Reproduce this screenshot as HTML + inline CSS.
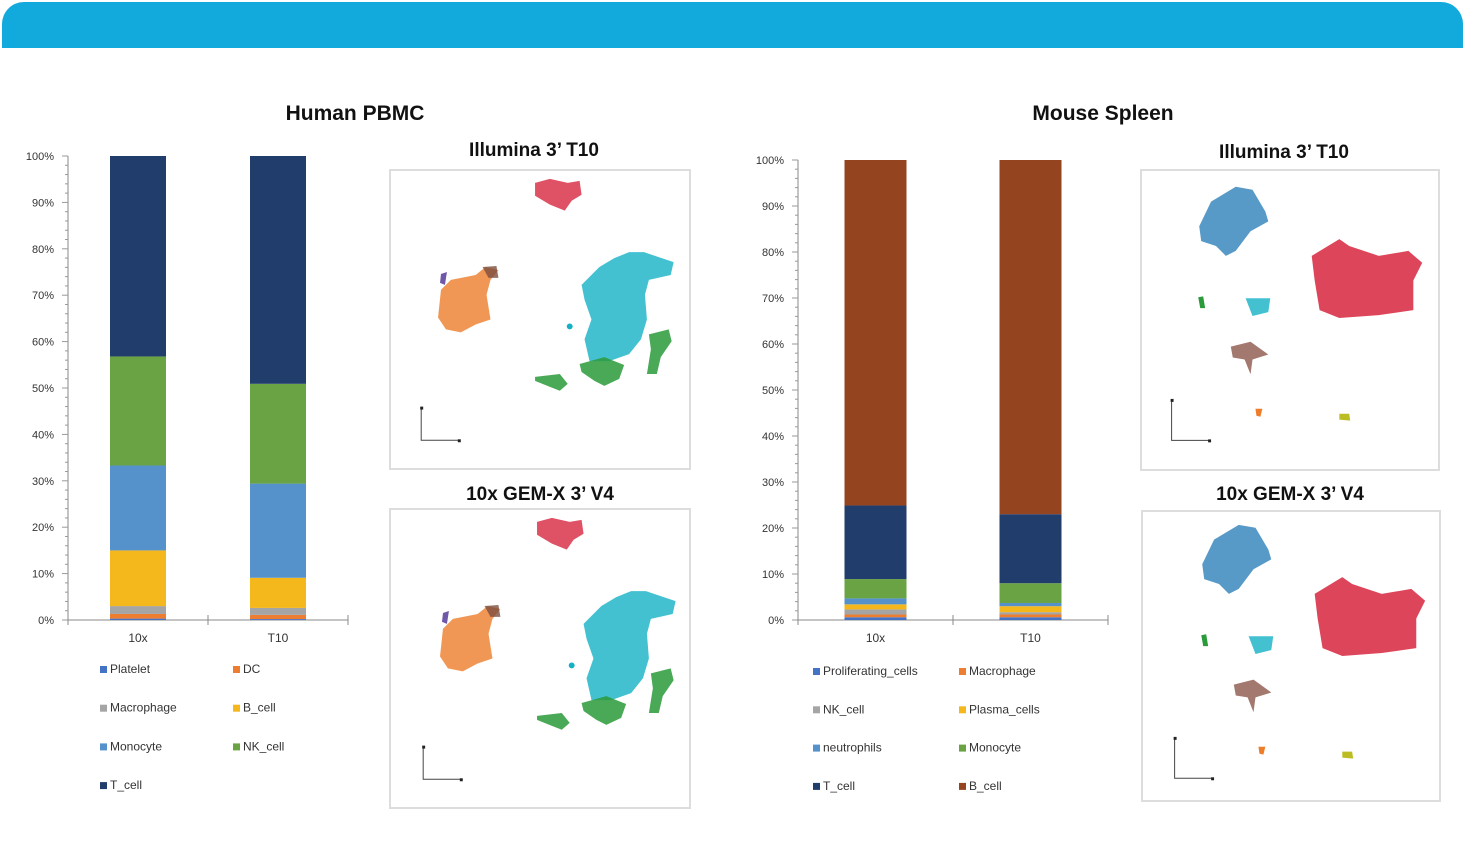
<!DOCTYPE html>
<html><head><meta charset="utf-8">
<style>
body{margin:0;width:1465px;height:849px;background:#fff;position:relative;overflow:hidden;font-family:"Liberation Sans",sans-serif;}
.abs{position:absolute;}
.title{font-weight:bold;font-size:21px;color:#111;transform:translateX(-50%);white-space:nowrap;}
.sub{font-weight:bold;font-size:19px;color:#111;transform:translateX(-50%);white-space:nowrap;}
.box{border:2px solid #ddd;box-sizing:border-box;}
</style></head><body>
<div class="abs" style="left:2px;top:2px;width:1461px;height:46px;background:#12a9dc;border-radius:22px 22px 0 0;"></div>
<div class="abs title" style="left:355px;top:102px;">Human PBMC</div>
<div class="abs title" style="left:1103px;top:102px;">Mouse Spleen</div>
<div class="abs sub" style="left:534px;top:140px;">Illumina 3’ T10</div>
<div class="abs sub" style="left:540px;top:484px;">10x GEM-X 3’ V4</div>
<div class="abs sub" style="left:1284px;top:142px;">Illumina 3’ T10</div>
<div class="abs sub" style="left:1290px;top:484px;">10x GEM-X 3’ V4</div>

<svg class="abs" style="left:0;top:0" width="1465" height="849" id="charts"></svg>

<svg class="abs box" style="left:389px;top:169px" width="302" height="301" viewBox="0 0 300 300">
 <g id="pbmcA">
 <path d="M145,12 L160,8 L178,12 L190,10 L192,24 L182,30 L175,40 L160,34 L145,25Z" fill="#d7263d" opacity="0.8"/>
 <path d="M50,120 L60,110 L85,105 L95,97 L108,100 L100,110 L96,125 L100,150 L85,155 L70,163 L55,160 L47,148Z" fill="#ee7d2a" opacity="0.8"/>
 <path d="M92,97 L106,96 L108,108 L98,108Z" fill="#7d4f3f" opacity="0.8"/>
 <path d="M50,104 L56,102 L54,115 L49,113Z" fill="#7058a8"/>
 <path d="M192,115 L210,97 L225,88 L240,82 L255,82 L285,92 L282,105 L260,110 L256,125 L258,150 L252,170 L240,185 L220,192 L200,192 L195,170 L202,150 L195,130Z" fill="#14b1c5" opacity="0.8"/>
 <path d="M190,195 L215,188 L235,196 L230,210 L215,217 L205,212 L192,203Z" fill="#2a9a3a" opacity="0.85"/>
 <path d="M260,165 L280,160 L283,172 L272,188 L268,205 L258,205 L262,180Z" fill="#2a9a3a" opacity="0.85"/>
 <path d="M145,208 L170,205 L178,215 L170,222 L160,218 L145,212Z" fill="#2a9a3a" opacity="0.85"/>
 <circle cx="180" cy="157" r="3" fill="#14b1c5"/>
 <path d="M30,240 V272 H68" stroke="#444" stroke-width="1" fill="none"/>
 <rect x="29" y="238" width="3" height="3" fill="#222"/><rect x="67" y="271" width="3" height="3" fill="#222"/>
 </g>
</svg>
<svg class="abs box" style="left:389px;top:508px" width="302" height="301" viewBox="0 0 300 300">
 <use href="#pbmcA" transform="translate(2,0)"/>
</svg>
<svg class="abs box" style="left:1140px;top:169px" width="300" height="302" viewBox="0 0 300 300">
 <g id="splA">
 <path d="M58,55 L70,30 L95,15 L112,18 L125,40 L128,50 L110,60 L95,80 L85,85 L75,75 L60,70Z" fill="#1f77b4" opacity="0.75"/>
 <path d="M172,85 L200,68 L210,75 L240,85 L270,80 L284,92 L275,110 L275,140 L240,145 L200,148 L180,140 L175,110Z" fill="#d7263d" opacity="0.85"/>
 <path d="M57,127 L62,126 L64,138 L59,138Z" fill="#2a9a3a"/>
 <path d="M105,128 L130,128 L128,142 L112,146Z" fill="#14b1c5" opacity="0.8"/>
 <path d="M90,177 L110,172 L128,185 L112,190 L110,205 L104,190 L92,188Z" fill="#8c564b" opacity="0.8"/>
 <path d="M115,240 L122,240 L120,248 L116,247Z" fill="#ee7d2a"/>
 <path d="M200,245 L210,245 L211,252 L200,251Z" fill="#bcbd22"/>
 <path d="M30,232 V272 H68" stroke="#444" stroke-width="1" fill="none"/>
 <rect x="29" y="230" width="3" height="3" fill="#222"/><rect x="67" y="271" width="3" height="3" fill="#222"/>
 </g>
</svg>
<svg class="abs box" style="left:1141px;top:510px" width="300" height="292" viewBox="0 0 300 292">
 <use href="#splA" transform="translate(2,-2)"/>
</svg>

<script>
// Human PBMC
const pbmcCats=["10x","T10"];
const pbmcTypes=["Platelet","DC","Macrophage","B_cell","Monocyte","NK_cell","T_cell"];
const pbmcColors=["#4472c4","#ed7d31","#a5a5a5","#f4b81c","#5592cb","#6aa343","#203d6b"];
const pbmc10x=[0.3,1.0,1.7,12.0,18.3,23.5,43.2];
const pbmcT10=[0.2,0.9,1.5,6.5,20.3,21.5,49.1];
// Mouse Spleen
const splCats=["10x","T10"];
const splTypes=["Proliferating_cells","Macrophage","NK_cell","Plasma_cells","neutrophils","Monocyte","T_cell","B_cell"];
const splColors=["#4472c4","#ed7d31","#a5a5a5","#f4b81c","#5592cb","#6aa343","#203d6b","#94441f"];
const spl10x=[0.6,0.6,1.1,1.1,1.3,4.2,16.0,75.1];
const splT10=[0.6,0.6,0.5,1.3,0.7,4.3,15.0,77.0];
const yTicks=[0,10,20,30,40,50,60,70,80,90,100];

const NS="http://www.w3.org/2000/svg";
const svg=document.getElementById('charts');
function mk(tag,attrs){const e=document.createElementNS(NS,tag);for(const k in attrs)e.setAttribute(k,attrs[k]);svg.appendChild(e);return e;}

function chart(cfg){
  const y=v=>cfg.y0-(cfg.y0-cfg.y100)*v/100;
  const ax=mk('line',{x1:cfg.ax,x2:cfg.ax,y1:y(100),y2:cfg.y0,stroke:'#888'});
  
  
  for(let i=0;i<=100;i+=2){const t=mk('line',{x1:cfg.ax-(i%10?3:6),x2:cfg.ax,y1:y(i),y2:y(i),stroke:'#999'});
    
    }
  yTicks.forEach(v=>{const t=mk('text',{x:cfg.ax-14,y:y(v)+4,'text-anchor':'end','font-size':11,fill:'#333'});t.textContent=v+'%';
    
    });
  const xa=mk('line',{x1:cfg.ax,x2:cfg.axEnd,y1:cfg.y0,y2:cfg.y0,stroke:'#888'});
  
  
  const step=(cfg.axEnd-cfg.ax)/cfg.cats.length;
  for(let i=0;i<=cfg.cats.length;i++){const t=mk('line',{x1:cfg.ax+i*step,x2:cfg.ax+i*step,y1:cfg.y0-5,y2:cfg.y0+5,stroke:'#888'});
    
    }
  cfg.cats.forEach((c,ci)=>{
    const cx=cfg.ax+step*(ci+0.5);
    let acc=0;
    cfg.series[ci].forEach((v,si)=>{
      const r=mk('rect',{x:cx-cfg.bw/2,y:y(acc+v),width:cfg.bw,height:y(acc)-y(acc+v),fill:cfg.colors[si]});
      
      
      acc+=v;
    });
    const t=mk('text',{x:cx,y:cfg.y0+22,'text-anchor':'middle','font-size':12,fill:'#333'});t.textContent=c;
    
    
  });
  cfg.types.forEach((tp,i)=>{
    const lx=cfg.lx[i%2], ly=cfg.ly0+Math.floor(i/2)*cfg.ldy;
    const r=mk('rect',{x:lx,y:ly-7,width:7,height:7,fill:cfg.colors[i]});
    
    
    const t=mk('text',{x:lx+10,y:ly,'font-size':12,fill:'#333'});t.textContent=tp;
    
    
  });
}
chart({ax:68,axEnd:348,y0:620,y100:156,bw:56,cats:pbmcCats,series:[pbmc10x,pbmcT10],types:pbmcTypes,colors:pbmcColors,lx:[100,233],ly0:673,ldy:38.7});
chart({ax:798,axEnd:1108,y0:620,y100:160,bw:62,cats:splCats,series:[spl10x,splT10],types:splTypes,colors:splColors,lx:[813,959],ly0:675,ldy:38.3});
</script>
</body></html>
